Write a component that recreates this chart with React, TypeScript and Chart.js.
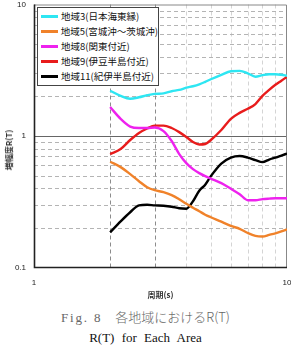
import React, { useEffect, useRef } from "react";
import { Chart, registerables } from "chart.js";

Chart.register(...registerables);

// Period T (s) at which each amplification curve is sampled
const periods = [2, 2.2, 2.4, 2.6, 2.8, 3, 3.25, 3.5, 3.75, 4, 4.25, 4.5, 4.75, 5, 5.5, 6, 6.5, 7, 7.5, 8, 8.5, 9, 9.5, 10];

// Amplification R(T) per area
const area3 = [2.21, 2.02, 1.92, 1.97, 2.04, 2.09, 2.11, 2.19, 2.24, 2.33, 2.39, 2.47, 2.58, 2.7, 2.92, 3.11, 3.13, 3.0, 2.82, 2.9, 2.95, 2.95, 2.92, 2.87];
const area5 = [0.637, 0.58, 0.513, 0.453, 0.408, 0.387, 0.374, 0.355, 0.33, 0.305, 0.285, 0.268, 0.252, 0.241, 0.223, 0.207, 0.197, 0.183, 0.174, 0.172, 0.177, 0.182, 0.188, 0.195];
const area8 = [1.66, 1.35, 1.18, 1.15, 1.15, 1.16, 1.09, 0.916, 0.729, 0.622, 0.56, 0.522, 0.495, 0.474, 0.438, 0.397, 0.361, 0.325, 0.325, 0.331, 0.334, 0.336, 0.336, 0.336];
const area9 = [0.729, 0.796, 0.932, 1.054, 1.14, 1.2, 1.2, 1.15, 1.07, 0.983, 0.9, 0.861, 0.869, 0.932, 1.11, 1.35, 1.5, 1.61, 1.75, 2.02, 2.24, 2.45, 2.63, 2.82];
const area11 = [0.185, 0.224, 0.263, 0.297, 0.3, 0.297, 0.295, 0.29, 0.282, 0.28, 0.319, 0.384, 0.426, 0.495, 0.617, 0.685, 0.704, 0.685, 0.656, 0.633, 0.662, 0.685, 0.71, 0.735];

const seriesNames = ["地域3(日本海東縁)", "地域5(宮城沖～茨城沖)", "地域8(関東付近)", "地域9(伊豆半島付近)", "地域11(紀伊半島付近)"];
const seriesValues = [area3, area5, area8, area9, area11];
const seriesColors = ["#2ee6f2", "#f0822a", "#ee22ee", "#e81c1c", "#000000"];

// Axis ticks and grid positions
const xTickLabels = [1, 10];
const yTickLabels = [0.1, 1, 10];
const xGridStrong = [2, 3];
const xGridLight = [4, 5, 6, 7, 8, 9];
const yGrid = [0.2, 0.3, 0.4, 0.5, 0.6, 0.7, 0.8, 0.9, 2, 3, 4, 5, 6, 7, 8, 9];

const xTitle = "周期(s)";
const yTitle = "増幅度R(T)";
const captionJa = ["Fig. 8", "各地域におけるR(T)"];
const captionEn = "R(T) for Each Area";

const W = 291;
const CANVAS_H = 304;
const PLOT_LEFT = 34;
const PLOT_TOP = 4.5;
const PLOT_BOTTOM = 267.5;
const PLOT_RIGHT = 287;

const gridPlugin = {
  id: "logGrid",
  beforeDatasetsDraw(chart: any) {
    const { ctx, chartArea: a, scales } = chart;
    const xs = scales.x;
    const ys = scales.y;
    ctx.save();
    ctx.lineWidth = 1;
    ctx.setLineDash([4, 3]);
    const vline = (v: number, color: string) => {
      const px = Math.round(xs.getPixelForValue(v)) + 0.5;
      ctx.strokeStyle = color;
      ctx.beginPath();
      ctx.moveTo(px, a.top);
      ctx.lineTo(px, a.bottom);
      ctx.stroke();
    };
    const hline = (v: number, color: string) => {
      const py = Math.round(ys.getPixelForValue(v)) + 0.5;
      ctx.strokeStyle = color;
      ctx.beginPath();
      ctx.moveTo(a.left, py);
      ctx.lineTo(a.right, py);
      ctx.stroke();
    };
    xGridLight.forEach((v) => vline(v, "#d4d4d4"));
    yGrid.forEach((v) => hline(v, "#b4b4b4"));
    xGridStrong.forEach((v) => vline(v, "#8c8c8c"));
    ctx.setLineDash([]);
    // decade line at R = 1
    hline(1, "#666666");
    // frame
    ctx.strokeStyle = "#888888";
    ctx.beginPath();
    ctx.moveTo(a.left, a.top + 0.5);
    ctx.lineTo(a.right - 0.5, a.top + 0.5);
    ctx.lineTo(a.right - 0.5, a.bottom);
    ctx.stroke();
    ctx.strokeStyle = "#222222";
    ctx.lineWidth = 1.6;
    ctx.beginPath();
    ctx.moveTo(a.left + 0.5, a.top);
    ctx.lineTo(a.left + 0.5, a.bottom);
    ctx.lineTo(a.right, a.bottom);
    ctx.stroke();
    ctx.restore();
  },
};

function zeroPadding(scale: any) {
  scale.paddingTop = 0;
  scale.paddingBottom = 0;
  scale.paddingLeft = 0;
  scale.paddingRight = 0;
}

export default function App() {
  const canvasRef = useRef<HTMLCanvasElement | null>(null);

  useEffect(() => {
    const canvas = canvasRef.current;
    if (!canvas) return;
    const datasets = seriesNames.map((name, i) => ({
      label: name,
      data: periods.map((t, j) => ({ x: t, y: seriesValues[i][j] })),
      borderColor: seriesColors[i],
      backgroundColor: seriesColors[i],
      borderWidth: 2.4,
      pointRadius: 0,
      cubicInterpolationMode: "monotone" as const,
      fill: false,
    }));
    const tickFont = { family: "'Liberation Sans', Arial, sans-serif", size: 8 };
    const chart = new Chart(canvas, {
      type: "line",
      data: { datasets },
      plugins: [gridPlugin],
      options: {
        animation: false,
        responsive: false,
        devicePixelRatio: 1,
        layout: {
          padding: { left: 0, top: PLOT_TOP, right: W - PLOT_RIGHT, bottom: 0 },
        },
        plugins: {
          legend: { display: false },
          tooltip: { enabled: false },
        },
        scales: {
          x: {
            type: "logarithmic",
            min: 1,
            max: 10,
            grid: { display: false, drawTicks: false },
            border: { display: false },
            afterBuildTicks: (s: any) => {
              s.ticks = xTickLabels.map((v) => ({ value: v }));
            },
            afterFit: (s: any) => {
              s.height = CANVAS_H - PLOT_BOTTOM;
              zeroPadding(s);
            },
            ticks: {
              autoSkip: false,
              maxRotation: 0,
              padding: 10,
              color: "#222",
              font: tickFont,
              callback: (v: any) => String(v),
            },
            title: {
              display: true,
              text: xTitle,
              color: "#333",
              font: { family: "'Noto Sans CJK JP', sans-serif", size: 8, weight: "bold" },
              padding: { top: 4, bottom: 4 },
            },
          },
          y: {
            type: "logarithmic",
            min: 0.1,
            max: 10,
            grid: { display: false, drawTicks: false },
            border: { display: false },
            afterBuildTicks: (s: any) => {
              s.ticks = yTickLabels.map((v) => ({ value: v }));
            },
            afterFit: (s: any) => {
              s.width = PLOT_LEFT;
              zeroPadding(s);
            },
            ticks: {
              autoSkip: false,
              padding: 8,
              color: "#222",
              font: tickFont,
              callback: (v: any) => String(v),
            },
          },
        },
      },
    });
    return () => chart.destroy();
  }, []);

  return (
    <div style={{ position: "absolute", left: 0, top: 0, width: W, height: 348, background: "#fff", overflow: "hidden" }}>
      <canvas ref={canvasRef} width={W} height={CANVAS_H} style={{ position: "absolute", left: 0, top: 0, width: W, height: CANVAS_H }} />
      <div
        style={{
          position: "absolute",
          left: 9,
          top: 150,
          transform: "translate(-50%, -50%) rotate(-90deg)",
          whiteSpace: "nowrap",
          fontFamily: "'Noto Sans CJK JP', sans-serif",
          fontSize: 8,
          fontWeight: "bold",
          color: "#333",
          lineHeight: "10px",
        }}
      >
        {yTitle}
      </div>
      <div
        style={{
          position: "absolute",
          left: 37,
          top: 7,
          width: 120,
          height: 76,
          border: "1px solid #444",
          background: "#fff",
          paddingTop: 1,
          boxSizing: "content-box",
        }}
      >
        {seriesNames.map((name, i) => (
          <div key={name} style={{ display: "flex", alignItems: "center", height: 15 }}>
            <div style={{ width: 17, height: 3, marginLeft: 3, marginRight: 3, background: seriesColors[i] }} />
            <span
              style={{
                fontFamily: "'Noto Sans CJK JP', sans-serif",
                fontSize: 9.5,
                lineHeight: "15px",
                color: "#111",
                whiteSpace: "nowrap",
              }}
            >
              {name}
            </span>
          </div>
        ))}
      </div>
      <div
        style={{
          position: "absolute",
          left: 0,
          top: 308,
          width: W,
          textAlign: "center",
          fontSize: 13,
          lineHeight: "18px",
          color: "#666",
          whiteSpace: "nowrap",
        }}
      >
        <span style={{ fontFamily: "'Liberation Serif', serif", letterSpacing: 1.8 }}>{captionJa[0]}</span>
        <span style={{ fontFamily: "'Noto Sans CJK JP', sans-serif", fontWeight: 300 }}>{"　" + captionJa[1]}</span>
      </div>
      <div
        style={{
          position: "absolute",
          left: 0,
          top: 329,
          width: W,
          textAlign: "center",
          fontFamily: "'Liberation Serif', serif",
          fontSize: 13,
          lineHeight: "18px",
          color: "#111",
          wordSpacing: 4,
          whiteSpace: "nowrap",
        }}
      >
        {captionEn}
      </div>
    </div>
  );
}
